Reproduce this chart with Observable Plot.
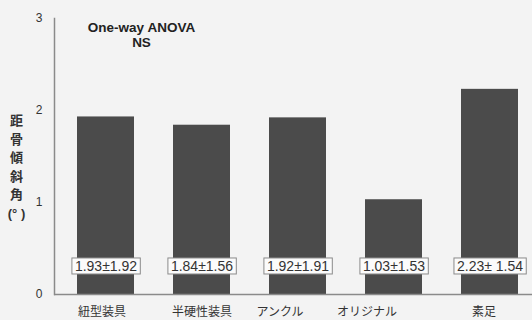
<!DOCTYPE html>
<html>
<head>
<meta charset="utf-8">
<script src="https://cdn.jsdelivr.net/npm/d3@7"></script>
<script src="https://cdn.jsdelivr.net/npm/@observablehq/plot@0.6"></script>
<style>
  html, body { margin: 0; padding: 0; background: #f3f3f3; }
</style>
</head>
<body>
<div id="chart"></div>
<script>
const categories = ["紐型装具", "半硬性装具", "アンクル", "オリジナル", "素足"];
const means = [1.93, 1.84, 1.92, 1.03, 2.23];
const sds = [1.92, 1.56, 1.91, 1.53, 1.54];
const valueLabels = ["1.93±1.92", "1.84±1.56", "1.92±1.91", "1.03±1.53", "2.23± 1.54"];
const yTicks = [0, 1, 2, 3];
const titleText = "One-way ANOVA\nNS";
const yTitle = "距\n骨\n傾\n斜\n角\n(° )";

// styling: horizontal nudges of the category labels as printed
const labelNudge = [-4, 0, -18, -27, -6];

const data = categories.map((c, i) => ({cat: c, mean: means[i], sd: sds[i], label: valueLabels[i]}));
const font = "'Liberation Sans', Arial, 'Noto Sans CJK JP', sans-serif";

const chart = Plot.plot({
  width: 532,
  height: 320,
  marginLeft: 54,
  marginRight: 0,
  marginTop: 18,
  marginBottom: 26,
  style: {background: "#f3f3f3", fontFamily: font, color: "#333"},
  x: {domain: categories, range: [54, 541], paddingInner: 0.41, paddingOuter: 0.216, axis: null},
  y: {domain: [0, 3]},
  marks: [
    Plot.barY(data, {x: "cat", y: "mean", fill: "#4b4b4b"}),
    Plot.frame({anchor: "left", stroke: "#8a8a8a", strokeWidth: 1.5}),
    Plot.ruleY([0], {stroke: "#8a8a8a", strokeWidth: 1.5}),
    Plot.axisY(yTicks, {tickSize: 0, tickPadding: 12, fontSize: 12, label: null, tickFormat: d => String(d)}),
    Plot.text(data, {x: "cat", y: 0, text: "label", dy: -28, fontSize: 14, fill: "#333", lineAnchor: "middle"}),
    ...categories.map((c, i) => Plot.text([c], {x: d => d, frameAnchor: "bottom", dy: 18, dx: labelNudge[i], fontSize: 12, fill: "#333", lineAnchor: "middle"})),
    Plot.text([titleText], {frameAnchor: "top-left", dx: 87, dy: 3, lineAnchor: "top", textAnchor: "middle", fontWeight: "bold", fontSize: 13.5, lineHeight: 1.1, fill: "#222"}),
    Plot.text([yTitle], {frameAnchor: "left", dx: -38, dy: 9, textAnchor: "middle", lineAnchor: "middle", fontWeight: "bold", fontSize: 13, lineHeight: 1.43, fill: "#333"})
  ]
});

document.getElementById("chart").appendChild(chart);

// white framed boxes behind the mean ± SD labels
chart.querySelectorAll("text").forEach(t => {
  if (!t.textContent.includes("±")) return;
  const bb = t.getBBox();
  const r = document.createElementNS("http://www.w3.org/2000/svg", "rect");
  r.setAttribute("x", bb.x - 3);
  r.setAttribute("y", bb.y);
  r.setAttribute("width", bb.width + 6);
  r.setAttribute("height", bb.height);
  r.setAttribute("fill", "#fbfbfb");
  r.setAttribute("stroke", "#8a8a8a");
  r.setAttribute("stroke-width", "1");
  const tr = t.getAttribute("transform");
  if (tr) r.setAttribute("transform", tr);
  t.parentNode.insertBefore(r, t);
});
</script>
</body>
</html>
